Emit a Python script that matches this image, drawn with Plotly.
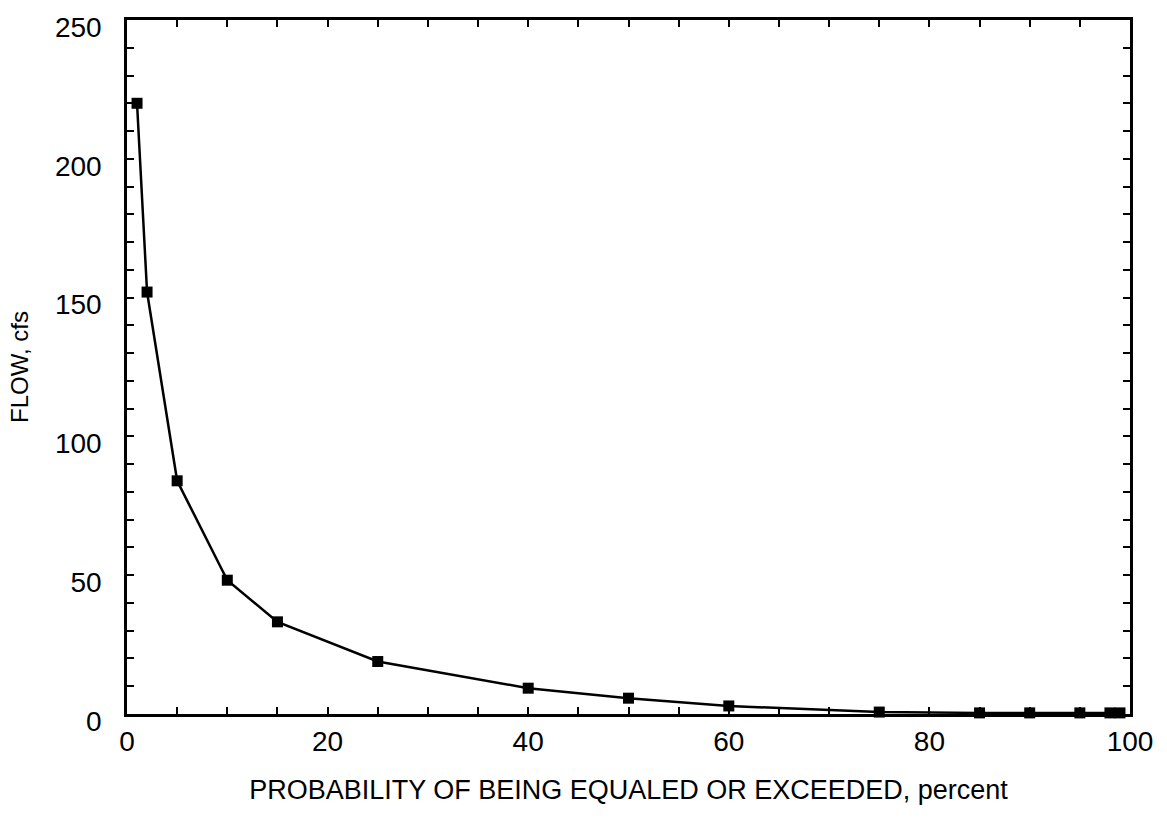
import plotly.graph_objects as go

prob = [1, 2, 5, 10, 15, 25, 40, 50, 60, 75, 85, 90, 95, 98, 99]
flow = [220, 152, 84, 48.2, 33.2, 18.9, 9.3, 5.7, 2.9, 0.7, 0.4, 0.4, 0.4, 0.4, 0.4]

x_ticks = list(range(0, 101, 5))
x_labels = [str(v) if v % 20 == 0 else "" for v in x_ticks]
y_ticks = list(range(0, 251, 10))
y_labels = [str(v) if v % 50 == 0 else "" for v in y_ticks]

fig = go.Figure()
fig.add_trace(go.Scatter(
    x=prob, y=flow, mode="lines+markers",
    line=dict(color="black", width=2.5),
    marker=dict(symbol="square", size=11, color="black"),
    showlegend=False,
    cliponaxis=False,
))

font = dict(family="Liberation Sans, Arial, sans-serif", color="black")
fig.update_layout(
    width=1167, height=818,
    margin=dict(l=127, r=37, t=14, b=104),
    paper_bgcolor="white", plot_bgcolor="white",
    font=font,
    xaxis=dict(
        range=[0, 100], tickmode="array", tickvals=x_ticks, ticktext=x_labels,
        ticks="inside", ticklen=7, tickwidth=2, tickcolor="black",
        showline=True, linewidth=2.5, linecolor="black", mirror="ticks",
        showgrid=False, zeroline=False,
        tickfont=dict(size=28), ticklabelstandoff=1,
        title=dict(text="PROBABILITY OF BEING EQUALED OR EXCEEDED, percent",
                   font=dict(size=27), standoff=24),
    ),
    yaxis=dict(
        range=[0, 250], tickmode="array", tickvals=y_ticks, ticktext=y_labels,
        ticks="inside", ticklen=7, tickwidth=2, tickcolor="black",
        showline=True, linewidth=2.5, linecolor="black", mirror="ticks",
        showgrid=False, zeroline=False,
        tickfont=dict(size=28), ticklabelstandoff=17, ticklabelshift=7,
        ticklabeloverflow="allow",
        title=dict(text="FLOW, cfs", font=dict(size=24), standoff=20),
    ),
)

fig.write_html("out.html")
